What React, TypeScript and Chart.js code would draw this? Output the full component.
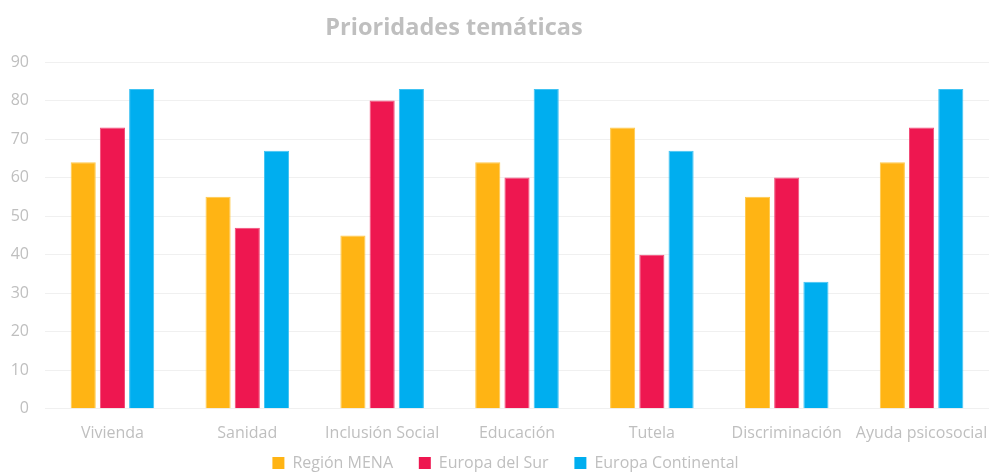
import React, { useEffect, useRef } from "react";
import { Chart, registerables } from "chart.js";

Chart.register(...registerables);

const categories = ["Vivienda", "Sanidad", "Inclusión Social", "Educación", "Tutela", "Discriminación", "Ayuda psicosocial"];
const regionMena = [64, 55, 45, 64, 73, 55, 64];
const europaSur = [73, 47, 80, 60, 40, 60, 73];
const europaContinental = [83, 67, 83, 83, 67, 33, 83];
const seriesNames = ["Región MENA", "Europa del Sur", "Europa Continental"];
const titleText = "Prioridades temáticas";

const FONT = "'Open Sans', sans-serif";
const GRAY = "#BFBFBF";

const titlePlugin = {
  id: "customTitle",
  afterLayout(chart: any) {
    if (chart.legend) {
      chart.legend.left += 11;
      chart.legend.right += 11;
    }
  },
  afterDraw(chart: any) {
    const ctx = chart.ctx;
    ctx.save();
    ctx.font = `bold 23.5px ${FONT}`;
    ctx.fillStyle = GRAY;
    ctx.textAlign = "center";
    ctx.textBaseline = "middle";
    ctx.fillText(titleText, 454, 28);
    ctx.restore();
  },
};

export default function App() {
  const ref = useRef<HTMLCanvasElement>(null);
  useEffect(() => {
    document.body.style.margin = "0";
    const chart = new Chart(ref.current!, {
      type: "bar",
      data: {
        labels: categories,
        datasets: [
          { label: seriesNames[0], data: regionMena, backgroundColor: "#FFB414", borderColor: "#FFC94A", borderWidth: 1 },
          { label: seriesNames[1], data: europaSur, backgroundColor: "#EE1750", borderColor: "#F24C78", borderWidth: 1 },
          { label: seriesNames[2], data: europaContinental, backgroundColor: "#00AEEF", borderColor: "#40C3F3", borderWidth: 1 },
        ],
      },
      options: {
        animation: false,
        responsive: false,
        maintainAspectRatio: false,
        layout: { padding: { top: 62, right: 0, left: 0, bottom: -6 } },
        datasets: { bar: { categoryPercentage: 0.65, barPercentage: 0.86 } },
        plugins: {
          title: { display: false },
          tooltip: { enabled: false },
          legend: {
            position: "bottom",
            labels: {
              boxWidth: 12,
              boxHeight: 12,
              color: GRAY,
              font: { family: FONT, size: 16 },
              padding: 5,
              generateLabels(chart: any) {
                const items = Chart.defaults.plugins.legend.labels.generateLabels(chart);
                return items.map((it: any, i: number) => ({
                  ...it,
                  text: i < items.length - 1 ? it.text + "     " : it.text,
                  lineWidth: 0,
                }));
              },
            },
          },
        },
        scales: {
          x: {
            grid: { display: false },
            border: { display: false },
            ticks: { color: GRAY, font: { family: FONT, size: 16 }, padding: 7, maxRotation: 0, autoSkip: false },
            afterFit(scale: any) {
              scale.paddingLeft = 0;
              scale.paddingRight = 0;
            },
          },
          y: {
            min: 0,
            max: 90,
            ticks: { stepSize: 10, color: GRAY, font: { family: FONT, size: 16 }, padding: 16 },
            grid: { color: "#F0F0F0", lineWidth: 1, drawTicks: false },
            border: { display: false },
            afterFit(scale: any) {
              scale.width = 45;
            },
          },
        },
      },
      plugins: [titlePlugin],
    });
    return () => chart.destroy();
  }, []);
  return (
    <div style={{ position: "fixed", left: 0, top: 0, width: 989, height: 475, background: "#fff" }}>
      <canvas ref={ref} width={989} height={475} style={{ width: 989, height: 475 }} />
    </div>
  );
}
